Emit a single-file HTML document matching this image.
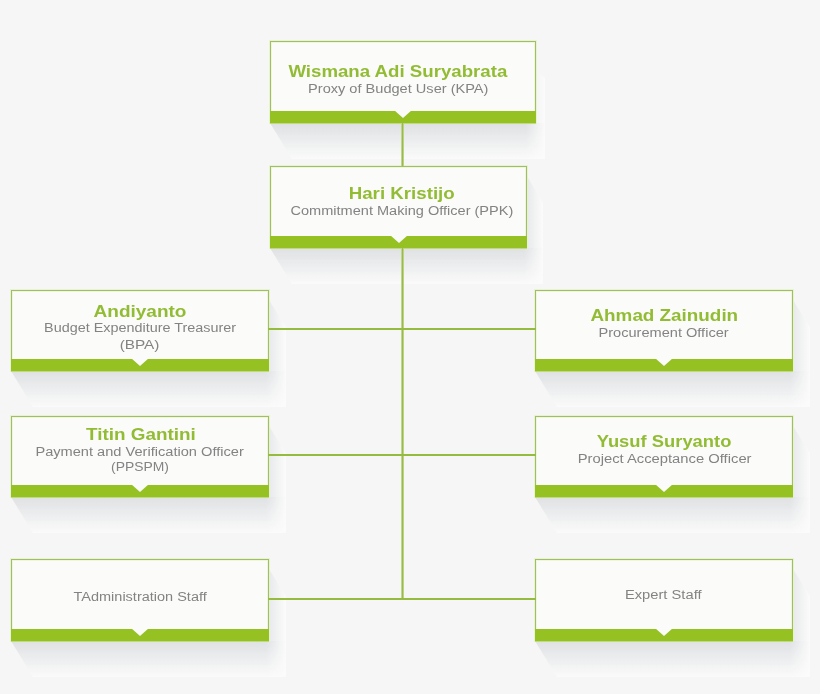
<!DOCTYPE html>
<html><head><meta charset="utf-8"><style>
html,body{margin:0;padding:0;}
body{width:820px;height:694px;background:#f6f6f6;position:relative;overflow:hidden;font-family:"Liberation Sans",sans-serif;}
.box{position:absolute;box-sizing:border-box;border:1px solid #a2bd68;border-bottom:none;background:#fbfbf9;box-shadow:0 0 0 1px rgba(228,242,200,.8), inset 0 1px 0 #eef6dc, inset 1px 0 0 #eef6dc, inset -1px 0 0 #eef6dc;}
.bar{position:absolute;left:-1px;right:-1px;bottom:0;height:12px;background:#95c122;box-shadow:0 1px 0 rgba(147,192,33,.45);}
.notch{position:absolute;left:50%;top:-1px;margin-left:-9px;width:0;height:0;border-left:9px solid transparent;border-right:9px solid transparent;border-top:8px solid #fbfbf9;}
.ln{position:absolute;background:#95bc3e;}
.t{position:absolute;width:400px;text-align:center;white-space:nowrap;line-height:20px;height:20px;}
.t span{display:inline-block;}
.n{font-weight:bold;font-size:17.2px;color:#92bc34;}
.s{font-size:12px;color:#838383;}
svg{position:absolute;left:0;top:0;}
</style></head><body>
<svg width="820" height="694"><linearGradient id="gv0" gradientUnits="userSpaceOnUse" x1="0" y1="123" x2="0" y2="159"><stop offset="0" stop-color="rgb(222,224,226)" stop-opacity="1"/><stop offset="1" stop-color="rgb(222,224,226)" stop-opacity="0"/></linearGradient><linearGradient id="gm0" gradientUnits="userSpaceOnUse" x1="526" y1="0" x2="545" y2="0"><stop offset="0" stop-color="#fff"/><stop offset="1" stop-color="#000"/></linearGradient><linearGradient id="gs0" gradientUnits="userSpaceOnUse" x1="536" y1="0" x2="545" y2="0"><stop offset="0" stop-color="rgb(222,224,226)" stop-opacity="0.25"/><stop offset="1" stop-color="rgb(222,224,226)" stop-opacity="0"/></linearGradient><mask id="m0" maskUnits="userSpaceOnUse" x="0" y="0" width="820" height="694"><rect x="0" y="0" width="820" height="694" fill="url(#gm0)"/></mask><polygon points="270,123 292,159 545,159 545,78 536,71" fill="#fbfbfb"/><polygon points="536,71 545,78 545,123 536,123" fill="url(#gs0)"/><polygon points="270,123 292,159 545,159 545,123" fill="url(#gv0)" mask="url(#m0)"/><linearGradient id="gv1" gradientUnits="userSpaceOnUse" x1="0" y1="248" x2="0" y2="284"><stop offset="0" stop-color="rgb(222,224,226)" stop-opacity="1"/><stop offset="1" stop-color="rgb(222,224,226)" stop-opacity="0"/></linearGradient><linearGradient id="gm1" gradientUnits="userSpaceOnUse" x1="524" y1="0" x2="543" y2="0"><stop offset="0" stop-color="#fff"/><stop offset="1" stop-color="#000"/></linearGradient><linearGradient id="gs1" gradientUnits="userSpaceOnUse" x1="527" y1="0" x2="543" y2="0"><stop offset="0" stop-color="rgb(222,224,226)" stop-opacity="0.65"/><stop offset="1" stop-color="rgb(222,224,226)" stop-opacity="0"/></linearGradient><mask id="m1" maskUnits="userSpaceOnUse" x="0" y="0" width="820" height="694"><rect x="0" y="0" width="820" height="694" fill="url(#gm1)"/></mask><polygon points="270,248 292,284 543,284 543,203 527,176" fill="#fbfbfb"/><polygon points="527,176 543,203 543,248 527,248" fill="url(#gs1)"/><polygon points="270,248 292,284 543,284 543,248" fill="url(#gv1)" mask="url(#m1)"/><linearGradient id="gv2" gradientUnits="userSpaceOnUse" x1="0" y1="371" x2="0" y2="407"><stop offset="0" stop-color="rgb(222,224,226)" stop-opacity="1"/><stop offset="1" stop-color="rgb(222,224,226)" stop-opacity="0"/></linearGradient><linearGradient id="gm2" gradientUnits="userSpaceOnUse" x1="266" y1="0" x2="286" y2="0"><stop offset="0" stop-color="#fff"/><stop offset="1" stop-color="#000"/></linearGradient><linearGradient id="gs2" gradientUnits="userSpaceOnUse" x1="269" y1="0" x2="286" y2="0"><stop offset="0" stop-color="rgb(222,224,226)" stop-opacity="0.65"/><stop offset="1" stop-color="rgb(222,224,226)" stop-opacity="0"/></linearGradient><mask id="m2" maskUnits="userSpaceOnUse" x="0" y="0" width="820" height="694"><rect x="0" y="0" width="820" height="694" fill="url(#gm2)"/></mask><polygon points="11,371 33,407 286,407 286,327 269,300" fill="#fbfbfb"/><polygon points="269,300 286,327 286,371 269,371" fill="url(#gs2)"/><polygon points="11,371 33,407 286,407 286,371" fill="url(#gv2)" mask="url(#m2)"/><linearGradient id="gv3" gradientUnits="userSpaceOnUse" x1="0" y1="371" x2="0" y2="407"><stop offset="0" stop-color="rgb(222,224,226)" stop-opacity="1"/><stop offset="1" stop-color="rgb(222,224,226)" stop-opacity="0"/></linearGradient><linearGradient id="gm3" gradientUnits="userSpaceOnUse" x1="790" y1="0" x2="810" y2="0"><stop offset="0" stop-color="#fff"/><stop offset="1" stop-color="#000"/></linearGradient><linearGradient id="gs3" gradientUnits="userSpaceOnUse" x1="793" y1="0" x2="810" y2="0"><stop offset="0" stop-color="rgb(222,224,226)" stop-opacity="0.65"/><stop offset="1" stop-color="rgb(222,224,226)" stop-opacity="0"/></linearGradient><mask id="m3" maskUnits="userSpaceOnUse" x="0" y="0" width="820" height="694"><rect x="0" y="0" width="820" height="694" fill="url(#gm3)"/></mask><polygon points="535,371 557,407 810,407 810,327 793,300" fill="#fbfbfb"/><polygon points="793,300 810,327 810,371 793,371" fill="url(#gs3)"/><polygon points="535,371 557,407 810,407 810,371" fill="url(#gv3)" mask="url(#m3)"/><linearGradient id="gv4" gradientUnits="userSpaceOnUse" x1="0" y1="497" x2="0" y2="533"><stop offset="0" stop-color="rgb(222,224,226)" stop-opacity="1"/><stop offset="1" stop-color="rgb(222,224,226)" stop-opacity="0"/></linearGradient><linearGradient id="gm4" gradientUnits="userSpaceOnUse" x1="266" y1="0" x2="286" y2="0"><stop offset="0" stop-color="#fff"/><stop offset="1" stop-color="#000"/></linearGradient><linearGradient id="gs4" gradientUnits="userSpaceOnUse" x1="269" y1="0" x2="286" y2="0"><stop offset="0" stop-color="rgb(222,224,226)" stop-opacity="0.65"/><stop offset="1" stop-color="rgb(222,224,226)" stop-opacity="0"/></linearGradient><mask id="m4" maskUnits="userSpaceOnUse" x="0" y="0" width="820" height="694"><rect x="0" y="0" width="820" height="694" fill="url(#gm4)"/></mask><polygon points="11,497 33,533 286,533 286,453 269,426" fill="#fbfbfb"/><polygon points="269,426 286,453 286,497 269,497" fill="url(#gs4)"/><polygon points="11,497 33,533 286,533 286,497" fill="url(#gv4)" mask="url(#m4)"/><linearGradient id="gv5" gradientUnits="userSpaceOnUse" x1="0" y1="497" x2="0" y2="533"><stop offset="0" stop-color="rgb(222,224,226)" stop-opacity="1"/><stop offset="1" stop-color="rgb(222,224,226)" stop-opacity="0"/></linearGradient><linearGradient id="gm5" gradientUnits="userSpaceOnUse" x1="790" y1="0" x2="810" y2="0"><stop offset="0" stop-color="#fff"/><stop offset="1" stop-color="#000"/></linearGradient><linearGradient id="gs5" gradientUnits="userSpaceOnUse" x1="793" y1="0" x2="810" y2="0"><stop offset="0" stop-color="rgb(222,224,226)" stop-opacity="0.65"/><stop offset="1" stop-color="rgb(222,224,226)" stop-opacity="0"/></linearGradient><mask id="m5" maskUnits="userSpaceOnUse" x="0" y="0" width="820" height="694"><rect x="0" y="0" width="820" height="694" fill="url(#gm5)"/></mask><polygon points="535,497 557,533 810,533 810,453 793,426" fill="#fbfbfb"/><polygon points="793,426 810,453 810,497 793,497" fill="url(#gs5)"/><polygon points="535,497 557,533 810,533 810,497" fill="url(#gv5)" mask="url(#m5)"/><linearGradient id="gv6" gradientUnits="userSpaceOnUse" x1="0" y1="641" x2="0" y2="677"><stop offset="0" stop-color="rgb(222,224,226)" stop-opacity="1"/><stop offset="1" stop-color="rgb(222,224,226)" stop-opacity="0"/></linearGradient><linearGradient id="gm6" gradientUnits="userSpaceOnUse" x1="266" y1="0" x2="286" y2="0"><stop offset="0" stop-color="#fff"/><stop offset="1" stop-color="#000"/></linearGradient><linearGradient id="gs6" gradientUnits="userSpaceOnUse" x1="269" y1="0" x2="286" y2="0"><stop offset="0" stop-color="rgb(222,224,226)" stop-opacity="0.65"/><stop offset="1" stop-color="rgb(222,224,226)" stop-opacity="0"/></linearGradient><mask id="m6" maskUnits="userSpaceOnUse" x="0" y="0" width="820" height="694"><rect x="0" y="0" width="820" height="694" fill="url(#gm6)"/></mask><polygon points="11,641 33,677 286,677 286,596 269,569" fill="#fbfbfb"/><polygon points="269,569 286,596 286,641 269,641" fill="url(#gs6)"/><polygon points="11,641 33,677 286,677 286,641" fill="url(#gv6)" mask="url(#m6)"/><linearGradient id="gv7" gradientUnits="userSpaceOnUse" x1="0" y1="641" x2="0" y2="677"><stop offset="0" stop-color="rgb(222,224,226)" stop-opacity="1"/><stop offset="1" stop-color="rgb(222,224,226)" stop-opacity="0"/></linearGradient><linearGradient id="gm7" gradientUnits="userSpaceOnUse" x1="790" y1="0" x2="810" y2="0"><stop offset="0" stop-color="#fff"/><stop offset="1" stop-color="#000"/></linearGradient><linearGradient id="gs7" gradientUnits="userSpaceOnUse" x1="793" y1="0" x2="810" y2="0"><stop offset="0" stop-color="rgb(222,224,226)" stop-opacity="0.65"/><stop offset="1" stop-color="rgb(222,224,226)" stop-opacity="0"/></linearGradient><mask id="m7" maskUnits="userSpaceOnUse" x="0" y="0" width="820" height="694"><rect x="0" y="0" width="820" height="694" fill="url(#gm7)"/></mask><polygon points="535,641 557,677 810,677 810,596 793,569" fill="#fbfbfb"/><polygon points="793,569 810,596 810,641 793,641" fill="url(#gs7)"/><polygon points="535,641 557,677 810,677 810,641" fill="url(#gv7)" mask="url(#m7)"/></svg>

<div class="box" style="left:270px;top:41px;width:266px;height:82px"><div class="bar"><div class="notch"></div></div></div>
<div class="box" style="left:270px;top:166px;width:257px;height:82px"><div class="bar"><div class="notch"></div></div></div>
<div class="box" style="left:11px;top:290px;width:258px;height:81px"><div class="bar"><div class="notch"></div></div></div>
<div class="box" style="left:535px;top:290px;width:258px;height:81px"><div class="bar"><div class="notch"></div></div></div>
<div class="box" style="left:11px;top:416px;width:258px;height:81px"><div class="bar"><div class="notch"></div></div></div>
<div class="box" style="left:535px;top:416px;width:258px;height:81px"><div class="bar"><div class="notch"></div></div></div>
<div class="box" style="left:11px;top:559px;width:258px;height:82px"><div class="bar"><div class="notch"></div></div></div>
<div class="box" style="left:535px;top:559px;width:258px;height:82px"><div class="bar"><div class="notch"></div></div></div>
<div class="ln" style="left:401px;top:123px;width:3px;height:43px;background:linear-gradient(90deg,#c0d68a 0,#c0d68a 1px,#98ba4e 1px,#98ba4e 2px,#bcd384 2px)"></div>
<div class="ln" style="left:401px;top:248px;width:3px;height:352px;background:linear-gradient(90deg,#c0d68a 0,#c0d68a 1px,#98ba4e 1px,#98ba4e 2px,#bcd384 2px)"></div>
<div class="ln" style="left:268px;top:328px;width:268px;height:2px"></div>
<div class="ln" style="left:268px;top:454px;width:268px;height:2px"></div>
<div class="ln" style="left:268px;top:598px;width:268px;height:2px"></div>
<div class="t n" style="left:197.50px;top:60.74px"><span style="transform:scaleX(1.0854)">Wismana Adi Suryabrata</span></div>
<div class="t s" style="left:198.40px;top:78.84px"><span style="transform:scaleX(1.2146)">Proxy of Budget User (KPA)</span></div>
<div class="t n" style="left:201.40px;top:183.04px"><span style="transform:scaleX(1.0879)">Hari Kristijo</span></div>
<div class="t s" style="left:202.20px;top:200.94px"><span style="transform:scaleX(1.2119)">Commitment Making Officer (PPK)</span></div>
<div class="t n" style="left:-60.00px;top:301.04px"><span style="transform:scaleX(1.1051)">Andiyanto</span></div>
<div class="t s" style="left:-60.00px;top:318.44px"><span style="transform:scaleX(1.1994)">Budget Expenditure Treasurer</span></div>
<div class="t s" style="left:-60.50px;top:334.54px"><span style="transform:scaleX(1.2784)">(BPA)</span></div>
<div class="t n" style="left:464.40px;top:304.94px"><span style="transform:scaleX(1.0966)">Ahmad Zainudin</span></div>
<div class="t s" style="left:463.30px;top:322.64px"><span style="transform:scaleX(1.2146)">Procurement Officer</span></div>
<div class="t n" style="left:-59.40px;top:423.64px"><span style="transform:scaleX(1.0977)">Titin Gantini</span></div>
<div class="t s" style="left:-60.00px;top:441.54px"><span style="transform:scaleX(1.2171)">Payment and Verification Officer</span></div>
<div class="t s" style="left:-60.00px;top:457.34px"><span style="transform:scaleX(1.1572)">(PPSPM)</span></div>
<div class="t n" style="left:464.00px;top:430.54px"><span style="transform:scaleX(1.0688)">Yusuf Suryanto</span></div>
<div class="t s" style="left:464.10px;top:449.44px"><span style="transform:scaleX(1.2316)">Project Acceptance Officer</span></div>
<div class="t s" style="left:-59.80px;top:587.34px"><span style="transform:scaleX(1.2082)">TAdministration Staff</span></div>
<div class="t s" style="left:463.60px;top:584.64px"><span style="transform:scaleX(1.2259)">Expert Staff</span></div>
</body></html>
